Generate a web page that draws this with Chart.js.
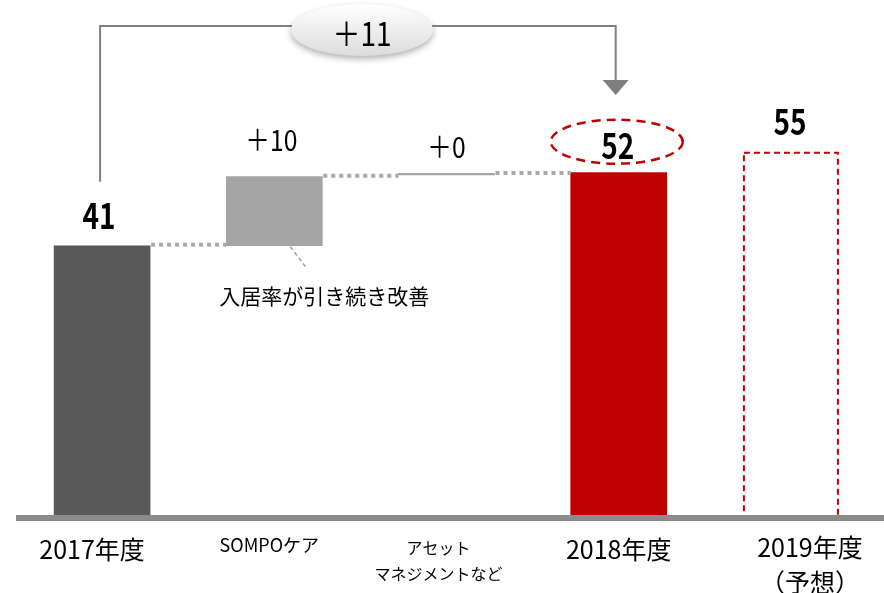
<!DOCTYPE html>
<html lang="ja">
<head>
<meta charset="utf-8">
<script src="https://cdn.jsdelivr.net/npm/chart.js@4"></script>
<style>
  html, body { margin: 0; padding: 0; background: #fff; }
  #wrap { width: 884px; height: 593px; }
</style>
</head>
<body>
<div id="wrap"><canvas id="waterfall" width="884" height="593"></canvas></div>
<script>
// 区分ラベル
const categories = [
    ['2017年度'],
    ['SOMPOケア'],
    ['アセット', 'マネジメントなど'],
    ['2018年度'],
    ['2019年度', '（予想）']
];

// 実績・予想（億円）
const fy2017 = 41;
const fy2018 = 52;
const fy2019Plan = 55;

// 増減要因
const changes = [10.4, 0.4];
const changeLabels = ['＋10', '＋0'];
const totalChangeLabel = '＋11';
const noteText = '入居率が引き続き改善';

const FONT = "'Noto Sans CJK JP', sans-serif";

// 浮動棒グラフ用のデータを組み立てる
const step1 = fy2017 + changes[0];
const step2 = step1 + changes[1];
const barData = [
    [0, fy2017],
    [fy2017, step1],
    [step2 - 0.15, step2 + 0.1],
    [0, fy2018],
    [0, fy2019Plan]
];
const barColors = ['#595959', '#a5a5a5', '#a5a5a5', '#c00000', 'rgba(0,0,0,0)'];
const valueLabels = [String(fy2017), changeLabels[0], changeLabels[1], String(fy2018), String(fy2019Plan)];
// 接続線の高さ
const levels = [fy2017, step1, step2];

// 棒の上の文字：上端からの距離と横のずれ
const labelLift = [30, 37, 26, 27, 31];
const labelShift = [-3, -3, 0, -1, -1];

// 横軸ラベルの書式（横のずれ、各行の軸からの距離、文字サイズ）
const tickStyle = [
    { dx: -10, dy: [31], size: 25 },
    { dx: -5, dy: [27], size: 18 },
    { dx: -8, dy: [30, 56], size: 16 },
    { dx: 0, dy: [31], size: 25 },
    { dx: 19, dy: [29, 64], size: 25 }
];

// 細長い数字を描く（横方向に縮める）
function drawNarrow(ctx, text, x, y, font, squeeze) {
    ctx.save();
    ctx.font = font;
    ctx.translate(x, y);
    ctx.scale(squeeze, 1);
    ctx.fillText(text, 0, 0);
    ctx.restore();
}

const decorPlugin = {
    id: 'decor',
    afterDatasetsDraw(chart) {
        const ctx = chart.ctx;
        const xScale = chart.scales.x;
        const yScale = chart.scales.y;
        const bars = chart.getDatasetMeta(0).data;
        const area = chart.chartArea;
        ctx.save();

        // 点線の接続線
        ctx.strokeStyle = '#aaaaaa';
        ctx.lineWidth = 4;
        ctx.setLineDash([4, 4]);
        for (let i = 0; i < 3; i++) {
            const y = yScale.getPixelForValue(levels[i]) - 1;
            ctx.beginPath();
            ctx.moveTo(bars[i].x + bars[i].width / 2 + 1, y);
            ctx.lineTo(bars[i + 1].x - bars[i + 1].width / 2, y);
            ctx.stroke();
        }

        // 2019年度予想（赤の破線枠）
        const b4 = bars[4];
        ctx.strokeStyle = '#c00000';
        ctx.lineWidth = 2;
        ctx.setLineDash([6, 4]);
        ctx.strokeRect(b4.x - b4.width / 2 + 1, b4.y, b4.width - 2, b4.base - b4.y);

        // 52 を囲む楕円
        const b3 = bars[3];
        ctx.lineWidth = 2.5;
        ctx.setLineDash([9, 6]);
        ctx.beginPath();
        ctx.ellipse(b3.x - 2, b3.y - 31, 66, 22, 0, 0, Math.PI * 2);
        ctx.stroke();
        ctx.setLineDash([]);

        // 横軸の太線
        ctx.fillStyle = '#8c8c8c';
        ctx.fillRect(area.left, area.bottom - 3, chart.width - area.left, 6);

        // 棒の上の数値
        ctx.fillStyle = '#000';
        ctx.textAlign = 'center';
        ctx.textBaseline = 'middle';
        bars.forEach((bar, i) => {
            const isChange = (i === 1 || i === 2);
            const font = isChange ? '29px ' + FONT : 'bold 35px ' + FONT;
            drawNarrow(ctx, valueLabels[i], bar.x + labelShift[i], bar.y - labelLift[i], font, isChange ? 0.85 : 0.8);
        });

        // 横軸ラベル
        categories.forEach((lines, i) => {
            const st = tickStyle[i];
            const x = xScale.getPixelForValue(i) + st.dx;
            ctx.font = st.size + 'px ' + FONT;
            lines.forEach((line, k) => {
                ctx.fillText(line, x, area.bottom + st.dy[k]);
            });
        });

        // 注記と引出線
        const b1 = bars[1];
        ctx.strokeStyle = '#a0a0a0';
        ctx.lineWidth = 1.5;
        ctx.setLineDash([4, 3]);
        ctx.beginPath();
        ctx.moveTo(b1.x + 16, b1.base + 1);
        ctx.lineTo(b1.x + 32, b1.base + 22);
        ctx.stroke();
        ctx.setLineDash([]);
        ctx.font = '21px ' + FONT;
        ctx.fillText(noteText, b1.x + 50, b1.base + 50);

        // 2017年度→2018年度の増減を示す矢印
        const b0 = bars[0];
        const topY = 26;
        ctx.strokeStyle = '#808080';
        ctx.lineWidth = 2;
        ctx.beginPath();
        ctx.moveTo(b0.x - 2, b0.y - 64);
        ctx.lineTo(b0.x - 2, topY);
        ctx.lineTo(b3.x - 3, topY);
        ctx.lineTo(b3.x - 3, 82);
        ctx.stroke();
        ctx.fillStyle = '#7f7f7f';
        ctx.beginPath();
        ctx.moveTo(b3.x - 16, 80);
        ctx.lineTo(b3.x + 10, 80);
        ctx.lineTo(b3.x - 3, 95);
        ctx.closePath();
        ctx.fill();

        // ＋11 の吹き出し
        const cx = 362, cy = 30;
        ctx.save();
        ctx.shadowColor = 'rgba(0,0,0,0.3)';
        ctx.shadowBlur = 6;
        ctx.shadowOffsetY = 3;
        const grad = ctx.createLinearGradient(0, cy - 26, 0, cy + 26);
        grad.addColorStop(0, '#ffffff');
        grad.addColorStop(1, '#dcdcdc');
        ctx.fillStyle = grad;
        ctx.beginPath();
        ctx.ellipse(cx, cy, 71, 26, 0, 0, Math.PI * 2);
        ctx.fill();
        ctx.restore();
        ctx.fillStyle = '#000';
        drawNarrow(ctx, totalChangeLabel, cx, cy + 3, '33px ' + FONT, 0.85);

        ctx.restore();
    }
};

const ctx = document.getElementById('waterfall').getContext('2d');
new Chart(ctx, {
    type: 'bar',
    data: {
        labels: categories,
        datasets: [{
            data: barData,
            backgroundColor: barColors,
            borderWidth: 0,
            barThickness: 96
        }]
    },
    options: {
        responsive: false,
        animation: false,
        layout: { padding: { left: 16, right: 7, top: 0, bottom: 0 } },
        plugins: {
            legend: { display: false },
            tooltip: { enabled: false }
        },
        scales: {
            x: {
                grid: { display: false, drawTicks: false },
                border: { display: false },
                ticks: { display: false },
                afterFit(scale) { scale.height = 75; }
            },
            y: {
                display: false,
                min: 0,
                max: 78
            }
        }
    },
    plugins: [decorPlugin]
});
</script>
</body>
</html>
